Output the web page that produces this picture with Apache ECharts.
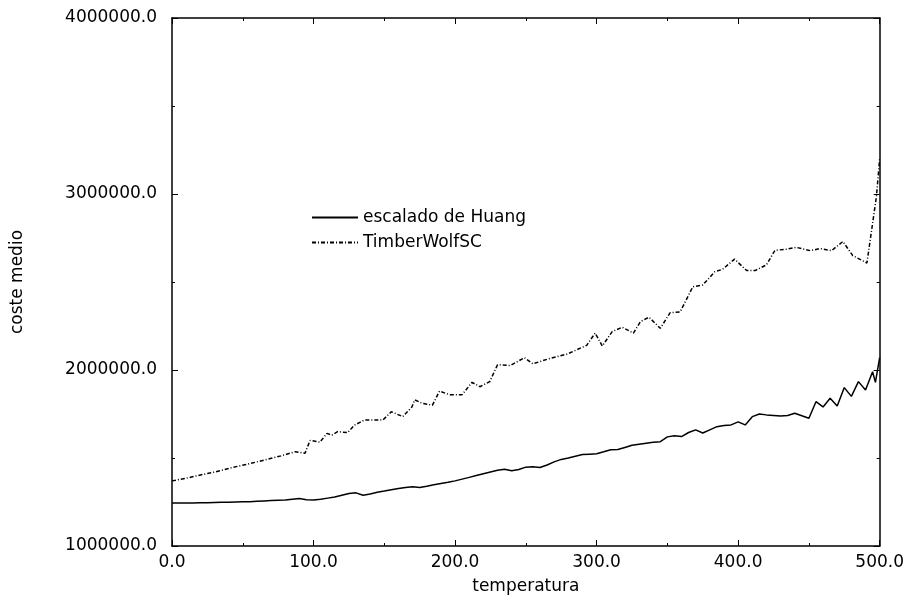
<!DOCTYPE html>
<html>
<head>
<meta charset="utf-8">
<script src="https://cdn.jsdelivr.net/npm/echarts@6/dist/echarts.min.js"></script>
<style>html,body{margin:0;padding:0;background:#fff}#c{width:907px;height:601px}</style>
</head>
<body>
<div id="c"></div>
<script>
const seriesNames = ['escalado de Huang', 'TimberWolfSC'];
const xAxisName = 'temperatura';
const yAxisName = 'coste medio';

const huangT = [0,5,10,15,20,25,30,35,40,45,50,55,60,65,70,75,80,85,90,95,100,105,110,115,120,125,130,135,140,145,150,155,160,165,170,175,180,185,190,195,200,205,210,215,220,225,230,235,240,245,250,255,260,265,270,275,280,285,290,295,300,305,310,315,320,325,330,335,340,345,350,355,360,365,370,375,380,385,390,395,400,405,410,415,420,425,430,435,440,445,450,455,460,465,470,475,480,485,490,495,497,500];
const huangCost = [1245000,1245000,1245000,1245000,1246000,1246000,1247000,1248000,1249000,1250000,1251000,1252000,1254000,1256000,1258000,1260000,1262000,1266000,1270000,1263000,1262000,1266000,1272000,1278000,1288000,1298000,1302000,1288000,1296000,1305000,1312000,1320000,1327000,1333000,1336000,1333000,1340000,1348000,1355000,1362000,1370000,1380000,1390000,1400000,1410000,1420000,1430000,1436000,1428000,1435000,1448000,1450000,1446000,1460000,1478000,1492000,1500000,1510000,1520000,1522000,1524000,1535000,1547000,1548000,1560000,1572000,1578000,1584000,1590000,1593000,1620000,1626000,1622000,1645000,1660000,1642000,1660000,1678000,1685000,1688000,1705000,1688000,1735000,1750000,1745000,1742000,1738000,1742000,1754000,1740000,1726000,1820000,1790000,1839000,1795000,1900000,1850000,1934000,1886000,1990000,1930000,2070000];

const timberT = [0,10,18,30,42,55,66,77,87,94,97.5,104.5,109.5,113,117,124,129,136,149,155,163,169.5,171.5,177,184,189,196,205,212,217.5,224.5,230,239,249,255,267,279,293,299,304,311,318,326,331,337,345,352,359,368,375,383.5,389,397.5,406,412,420,426,434,441,451,458,466,474,481,491,497.7,500];
const timberCost = [1370000,1385000,1400000,1420000,1445000,1468000,1490000,1512000,1536000,1527000,1600000,1590000,1640000,1630000,1650000,1644000,1687000,1716000,1716000,1763000,1735000,1790000,1830000,1810000,1800000,1880000,1860000,1860000,1930000,1905000,1934000,2030000,2025000,2070000,2035000,2066000,2090000,2140000,2210000,2136000,2218000,2243000,2210000,2275000,2300000,2237000,2326000,2330000,2473000,2483000,2558000,2572000,2630000,2565000,2565000,2597000,2680000,2686000,2697000,2678000,2690000,2678000,2730000,2650000,2608000,2985000,3200000];

const huangData = huangT.map((t, i) => [t, huangCost[i]]);
const timberData = timberT.map((t, i) => [t, timberCost[i]]);

const FONT = 'DejaVu Sans';
const chart = echarts.init(document.getElementById('c'), null, {renderer: 'canvas'});
const axisLineStyle = {color: '#000', width: 1.5};
chart.setOption({
  backgroundColor: '#fff',
  animation: false,
  textStyle: {fontFamily: FONT, color: '#000'},
  grid: {left: 172, right: 27, top: 18, bottom: 55, containLabel: false},
  legend: {
    orient: 'vertical', left: 306, top: 204, itemWidth: 46, itemHeight: 14, itemGap: 8,
    textStyle: {fontFamily: FONT, fontSize: 17, color: '#000'},
    itemStyle: {opacity: 0},
    data: seriesNames
  },
  xAxis: [{
    type: 'value', min: 0, max: 500, interval: 100,
    name: xAxisName, nameLocation: 'middle', nameGap: 32,
    nameTextStyle: {fontFamily: FONT, fontSize: 17, color: '#000'},
    axisLine: {show: true, onZero: false, lineStyle: axisLineStyle},
    axisTick: {show: true, inside: true, length: 6, lineStyle: {color: '#000', width: 1}},
    minorTick: {show: true, splitNumber: 2, length: 3, lineStyle: {color: '#000', width: 1}},
    axisLabel: {fontFamily: FONT, fontSize: 17, color: '#000', margin: 8, formatter: v => v.toFixed(1)},
    splitLine: {show: false}
  }, {
    type: 'value', position: 'top', min: 0, max: 500, interval: 100,
    axisLine: {show: true, onZero: false, lineStyle: axisLineStyle},
    axisTick: {show: true, inside: true, length: 6, lineStyle: {color: '#000', width: 1}},
    minorTick: {show: true, splitNumber: 2, length: 3, lineStyle: {color: '#000', width: 1}},
    axisLabel: {show: false}, splitLine: {show: false}
  }],
  yAxis: [{
    type: 'value', min: 1000000, max: 4000000, interval: 1000000,
    name: yAxisName, nameLocation: 'middle', nameGap: 146, nameRotate: 90,
    nameTextStyle: {fontFamily: FONT, fontSize: 17, color: '#000'},
    axisLine: {show: true, onZero: false, lineStyle: axisLineStyle},
    axisTick: {show: true, inside: true, length: 6, lineStyle: {color: '#000', width: 1}},
    minorTick: {show: true, splitNumber: 2, length: 3, lineStyle: {color: '#000', width: 1}},
    axisLabel: {fontFamily: FONT, fontSize: 17, color: '#000', margin: 15, formatter: v => v.toFixed(1)},
    splitLine: {show: false}
  }, {
    type: 'value', position: 'right', min: 1000000, max: 4000000, interval: 1000000,
    axisLine: {show: true, onZero: false, lineStyle: axisLineStyle},
    axisTick: {show: true, inside: true, length: 6, lineStyle: {color: '#000', width: 1}},
    minorTick: {show: true, splitNumber: 2, length: 3, lineStyle: {color: '#000', width: 1}},
    axisLabel: {show: false}, splitLine: {show: false}
  }],
  series: [{
    name: seriesNames[0], type: 'line', data: huangData, symbol: 'none',
    lineStyle: {color: '#000', width: 1.5, type: 'solid'},
    itemStyle: {color: '#000'}
  }, {
    name: seriesNames[1], type: 'line', data: timberData, symbol: 'none',
    lineStyle: {color: '#000', width: 1.5, type: [4, 2, 1, 2]},
    itemStyle: {color: '#000'}
  }]
});
</script>
</body>
</html>
